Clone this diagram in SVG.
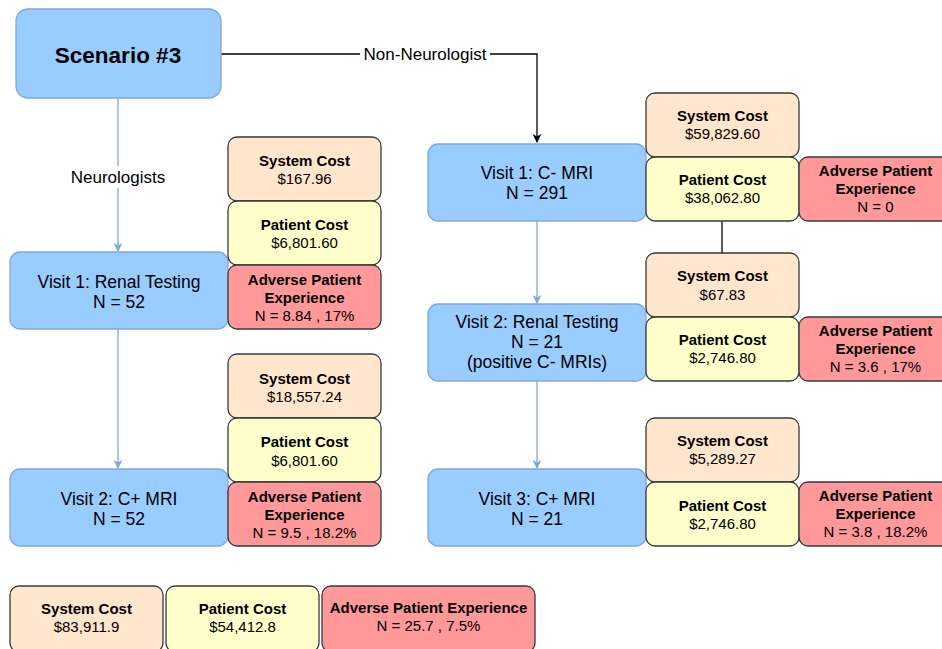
<svg xmlns="http://www.w3.org/2000/svg" width="942" height="649" viewBox="0 0 942 649">
  <style>
    text { font-family: "Liberation Sans", Arial, Helvetica, sans-serif; fill: #000; text-anchor: middle; }
    .visit { fill: #99CCFF; stroke: #7EA6E0; stroke-width: 1.3; }
    .sys { fill: #FFE6CC; stroke: #36393D; stroke-width: 1.3; }
    .pat { fill: #FFFFCC; stroke: #36393D; stroke-width: 1.3; }
    .adv { fill: #FF9999; stroke: #36393D; stroke-width: 1.3; }
    .vt { font-size: 17.5px; }
    .bt { font-size: 15px; font-weight: bold; }
    .vl { font-size: 15px; }
    .blue { stroke: #7EA6E0; stroke-width: 1.3; fill: none; }
    .black { stroke: #000; stroke-width: 1.3; fill: none; }
    .lbl { font-size: 17px; }
  </style>
  <defs>
    <marker id="arrBlue" viewBox="0 0 10 10" refX="9" refY="5" markerWidth="9" markerHeight="9" markerUnits="userSpaceOnUse" orient="auto">
      <path d="M0,0 L10,5 L0,10 L3,5 Z" fill="#7EA6E0"/>
    </marker>
    <marker id="arrBlack" viewBox="0 0 10 10" refX="9" refY="5" markerWidth="9" markerHeight="9" markerUnits="userSpaceOnUse" orient="auto">
      <path d="M0,0 L10,5 L0,10 L3,5 Z" fill="#000"/>
    </marker>
  </defs>

  <!-- connectors -->
  <g id="connectors">
    <path class="blue" d="M118,98 V251" marker-end="url(#arrBlue)"/>
    <path class="blue" d="M118,329 V468" marker-end="url(#arrBlue)"/>
    <path class="black" d="M221,54 H537 V142" marker-end="url(#arrBlack)"/>
    <path class="blue" d="M537,221 V303" marker-end="url(#arrBlue)"/>
    <path class="blue" d="M537,381 V468" marker-end="url(#arrBlue)"/>
    <path class="black" d="M722,221 V253"/>
    <rect x="360" y="44" width="130" height="20" fill="#fff"/>
    <text class="lbl" x="425" y="60">Non-Neurologist</text>
    <rect x="67" y="166" width="102" height="22" fill="#fff"/>
    <text class="lbl" x="118" y="183">Neurologists</text>
  </g>

  <!-- start node -->
  <g id="scenario">
    <rect class="visit" x="16" y="9" width="205" height="89" rx="12"/>
    <text x="118" y="63" font-size="22.5" font-weight="bold">Scenario #3</text>
  </g>

  <!-- neurologist path -->
  <g id="n-visit1">
    <rect class="visit" x="10" y="252" width="218" height="77" rx="10"/>
    <text class="vt" x="119" y="288">Visit 1: Renal Testing</text>
    <text class="vt" x="119" y="308">N = 52</text>
  </g>
  <g id="n-visit1-sys">
    <rect class="sys" x="228" y="137" width="153" height="64" rx="9"/>
    <text class="bt" x="304.5" y="166">System Cost</text>
    <text class="vl" x="304.5" y="184">$167.96</text>
  </g>
  <g id="n-visit1-pat">
    <rect class="pat" x="228" y="201" width="153" height="64" rx="9"/>
    <text class="bt" x="304.5" y="230">Patient Cost</text>
    <text class="vl" x="304.5" y="248">$6,801.60</text>
  </g>
  <g id="n-visit1-adv">
    <rect class="adv" x="228" y="265" width="153" height="64" rx="9"/>
    <text class="bt" x="304.5" y="285">Adverse Patient</text>
    <text class="bt" x="304.5" y="303">Experience</text>
    <text class="vl" x="304.5" y="321">N = 8.84 , 17%</text>
  </g>

  <g id="n-visit2">
    <rect class="visit" x="10" y="469" width="218" height="77" rx="10"/>
    <text class="vt" x="119" y="505">Visit 2: C+ MRI</text>
    <text class="vt" x="119" y="525">N = 52</text>
  </g>
  <g id="n-visit2-sys">
    <rect class="sys" x="228" y="354" width="153" height="64" rx="9"/>
    <text class="bt" x="304.5" y="384">System Cost</text>
    <text class="vl" x="304.5" y="402">$18,557.24</text>
  </g>
  <g id="n-visit2-pat">
    <rect class="pat" x="228" y="418" width="153" height="64" rx="9"/>
    <text class="bt" x="304.5" y="447">Patient Cost</text>
    <text class="vl" x="304.5" y="466">$6,801.60</text>
  </g>
  <g id="n-visit2-adv">
    <rect class="adv" x="228" y="482" width="153" height="64" rx="9"/>
    <text class="bt" x="304.5" y="502">Adverse Patient</text>
    <text class="bt" x="304.5" y="520">Experience</text>
    <text class="vl" x="304.5" y="538">N = 9.5 , 18.2%</text>
  </g>

  <!-- non-neurologist path -->
  <g id="nn-visit1">
    <rect class="visit" x="428" y="144" width="218" height="77" rx="10"/>
    <text class="vt" x="537" y="179">Visit 1: C- MRI</text>
    <text class="vt" x="537" y="199">N = 291</text>
  </g>
  <g id="nn-visit1-sys">
    <rect class="sys" x="646" y="93" width="153" height="64" rx="9"/>
    <text class="bt" x="722.5" y="121">System Cost</text>
    <text class="vl" x="722.5" y="139">$59,829.60</text>
  </g>
  <g id="nn-visit1-pat">
    <rect class="pat" x="646" y="157" width="153" height="64" rx="9"/>
    <text class="bt" x="722.5" y="185">Patient Cost</text>
    <text class="vl" x="722.5" y="203">$38,062.80</text>
  </g>
  <g id="nn-visit1-adv">
    <rect class="adv" x="799" y="157" width="153" height="64" rx="9"/>
    <text class="bt" x="875.5" y="176">Adverse Patient</text>
    <text class="bt" x="875.5" y="194">Experience</text>
    <text class="vl" x="875.5" y="212">N = 0</text>
  </g>

  <g id="nn-visit2">
    <rect class="visit" x="428" y="304" width="218" height="77" rx="10"/>
    <text class="vt" x="537" y="328">Visit 2: Renal Testing</text>
    <text class="vt" x="537" y="348">N = 21</text>
    <text class="vt" x="537" y="368">(positive C- MRIs)</text>
  </g>
  <g id="nn-visit2-sys">
    <rect class="sys" x="646" y="253" width="153" height="64" rx="9"/>
    <text class="bt" x="722.5" y="281">System Cost</text>
    <text class="vl" x="722.5" y="300">$67.83</text>
  </g>
  <g id="nn-visit2-pat">
    <rect class="pat" x="646" y="317" width="153" height="64" rx="9"/>
    <text class="bt" x="722.5" y="345">Patient Cost</text>
    <text class="vl" x="722.5" y="363">$2,746.80</text>
  </g>
  <g id="nn-visit2-adv">
    <rect class="adv" x="799" y="317" width="153" height="64" rx="9"/>
    <text class="bt" x="875.5" y="336">Adverse Patient</text>
    <text class="bt" x="875.5" y="354">Experience</text>
    <text class="vl" x="875.5" y="372">N = 3.6 , 17%</text>
  </g>

  <g id="nn-visit3">
    <rect class="visit" x="428" y="469" width="218" height="77" rx="10"/>
    <text class="vt" x="537" y="505">Visit 3: C+ MRI</text>
    <text class="vt" x="537" y="525">N = 21</text>
  </g>
  <g id="nn-visit3-sys">
    <rect class="sys" x="646" y="418" width="153" height="64" rx="9"/>
    <text class="bt" x="722.5" y="446">System Cost</text>
    <text class="vl" x="722.5" y="464">$5,289.27</text>
  </g>
  <g id="nn-visit3-pat">
    <rect class="pat" x="646" y="482" width="153" height="64" rx="9"/>
    <text class="bt" x="722.5" y="511">Patient Cost</text>
    <text class="vl" x="722.5" y="529">$2,746.80</text>
  </g>
  <g id="nn-visit3-adv">
    <rect class="adv" x="799" y="482" width="153" height="64" rx="9"/>
    <text class="bt" x="875.5" y="501">Adverse Patient</text>
    <text class="bt" x="875.5" y="519">Experience</text>
    <text class="vl" x="875.5" y="537">N = 3.8 , 18.2%</text>
  </g>

  <!-- totals -->
  <g id="total-sys">
    <rect class="sys" x="10" y="586" width="153" height="66" rx="9"/>
    <text class="bt" x="86.5" y="614">System Cost</text>
    <text class="vl" x="86.5" y="632">$83,911.9</text>
  </g>
  <g id="total-pat">
    <rect class="pat" x="166" y="586" width="153" height="66" rx="9"/>
    <text class="bt" x="242.5" y="614">Patient Cost</text>
    <text class="vl" x="242.5" y="632">$54,412.8</text>
  </g>
  <g id="total-adv">
    <rect class="adv" x="322" y="586" width="213" height="66" rx="9"/>
    <text class="bt" x="428.5" y="613">Adverse Patient Experience</text>
    <text class="vl" x="428.5" y="631">N = 25.7 , 7.5%</text>
  </g>
</svg>
